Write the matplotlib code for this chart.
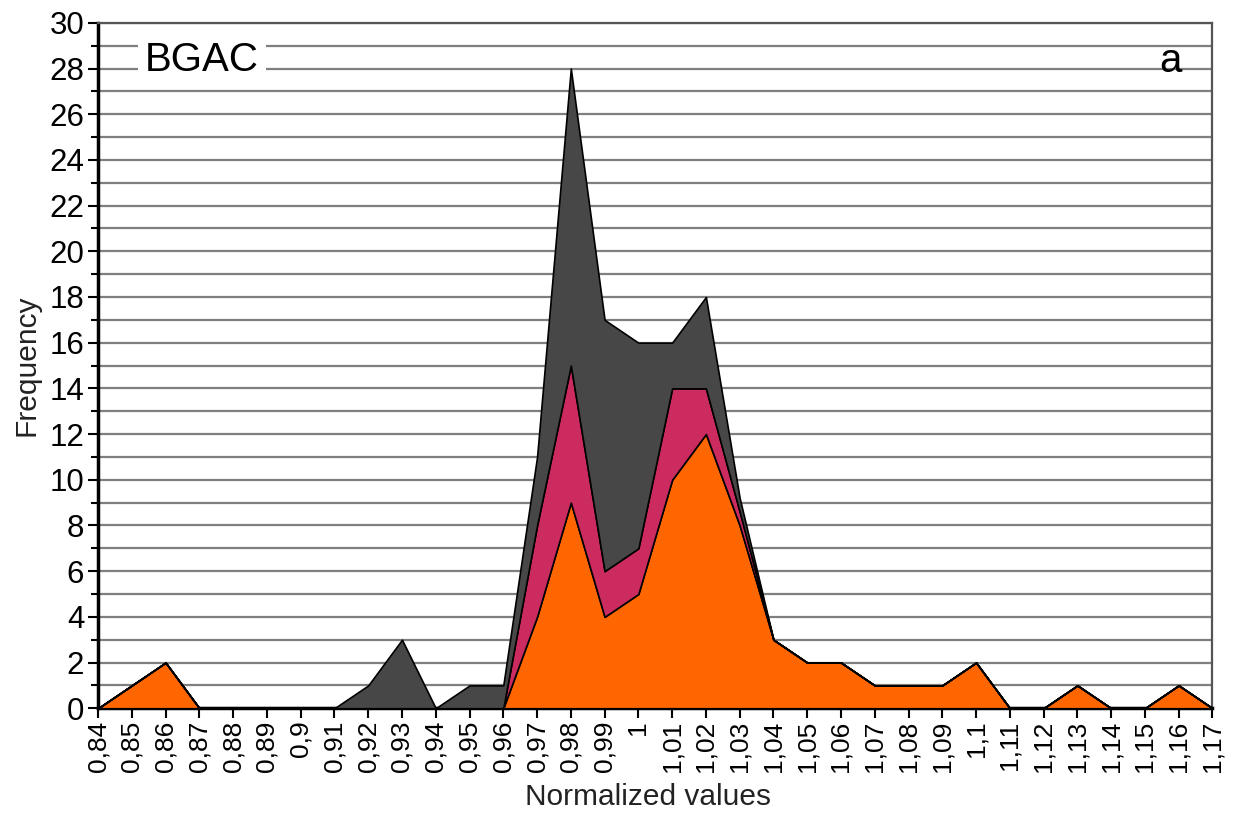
import numpy as np
import matplotlib.pyplot as plt

plt.rcParams['font.family'] = ['Liberation Sans', 'DejaVu Sans']

# normalized value bins 0.84 .. 1.17
bins = [0.84, 0.85, 0.86, 0.87, 0.88, 0.89, 0.90, 0.91, 0.92, 0.93, 0.94, 0.95,
        0.96, 0.97, 0.98, 0.99, 1.00, 1.01, 1.02, 1.03, 1.04, 1.05, 1.06, 1.07,
        1.08, 1.09, 1.10, 1.11, 1.12, 1.13, 1.14, 1.15, 1.16, 1.17]
bin_labels = ["0,84", "0,85", "0,86", "0,87", "0,88", "0,89", "0,9", "0,91", "0,92",
              "0,93", "0,94", "0,95", "0,96", "0,97", "0,98", "0,99", "1", "1,01",
              "1,02", "1,03", "1,04", "1,05", "1,06", "1,07", "1,08", "1,09", "1,1",
              "1,11", "1,12", "1,13", "1,14", "1,15", "1,16", "1,17"]

# stacked layers (bottom -> top)
orange = [0, 1, 2, 0, 0, 0, 0, 0, 0, 0, 0, 0,
          0, 4, 9, 4, 5, 10, 12, 8, 3, 2, 2, 1,
          1, 1, 2, 0, 0, 1, 0, 0, 1, 0]
crimson = [0, 0, 0, 0, 0, 0, 0, 0, 0, 0, 0, 0,
           0, 4, 6, 2, 2, 4, 2, 0.6, 0, 0, 0, 0,
           0, 0, 0, 0, 0, 0, 0, 0, 0, 0]
grey = [0, 0, 0, 0, 0, 0, 0, 0, 1, 3, 0, 1,
        1, 3, 13, 11, 9, 2, 4, 0.6, 0, 0, 0, 0,
        0, 0, 0, 0, 0, 0, 0, 0, 0, 0]

x = np.arange(len(bins))

fig = plt.figure(figsize=(12.41, 8.15), dpi=100)
ax = fig.add_axes([0.079, 0.131, 0.898, 0.841])

ax.stackplot(x, orange, crimson, grey,
             colors=["#ff6600", "#cc2b60", "#474747"],
             edgecolor="black", linewidth=1.2, zorder=3)

ax.set_xlim(0, len(bins) - 1)
ax.set_ylim(0, 30)
ax.set_yticks(range(0, 31, 2))
ax.set_yticks(range(0, 31, 1), minor=True)
ax.grid(axis="y", which="both", color="#7f7f7f", linewidth=1.6, zorder=0)
ax.set_axisbelow(True)

ax.set_xticks(x)
ax.set_xticklabels(bin_labels, rotation=90, fontsize=19)
ax.tick_params(axis="y", labelsize=22.5, length=7, width=1.5, pad=3)
ax.tick_params(axis="y", which="minor", length=5, width=1.5)
ax.tick_params(axis="x", length=7, width=1.5, pad=2)

for s in ["left", "bottom"]:
    ax.spines[s].set_linewidth(2.5)
    ax.spines[s].set_color("black")
for s in ["top", "right"]:
    ax.spines[s].set_linewidth(1.6)
    ax.spines[s].set_color("#555555")

fig.text(0.522, 0.012, "Normalized values", fontsize=21.5, color="#222222",
         ha="center", va="baseline")
ax.set_ylabel("Frequency", fontsize=21.5, color="#222222")
ax.yaxis.set_label_coords(-0.052, 0.5)

ax.text(0.093, 0.946, "BGAC", transform=ax.transAxes, fontsize=29,
        ha="center", va="center", zorder=5,
        bbox=dict(facecolor="white", edgecolor="none", pad=5))
ax.text(0.962, 0.944, "a", transform=ax.transAxes, fontsize=29,
        ha="center", va="center", zorder=5)

fig.savefig("out.png", dpi=100)
